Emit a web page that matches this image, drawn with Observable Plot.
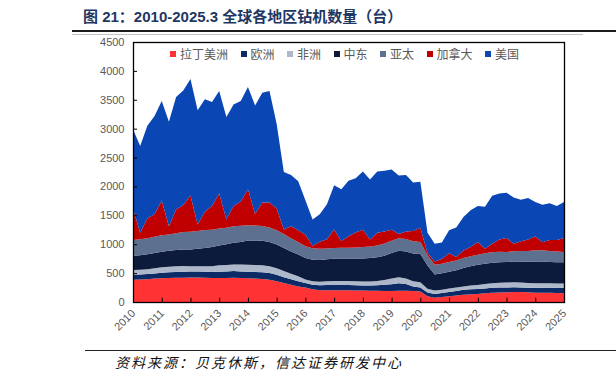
<!DOCTYPE html>
<html>
<head>
<meta charset="utf-8">
<script src="https://cdn.jsdelivr.net/npm/d3@7"></script>
<script src="https://cdn.jsdelivr.net/npm/@observablehq/plot@0.6"></script>
<style>
  html, body { margin: 0; padding: 0; background: #fff; }
  #wrap { position: relative; width: 616px; height: 381px; overflow: hidden; font-family: "Liberation Sans", "Noto Sans CJK SC", sans-serif; }
  #chart { position: absolute; left: 0; top: 0; }
  .title { position: absolute; left: 83px; top: 5px; font-size: 15px; font-weight: bold; color: #1F3763; white-space: nowrap; font-family: "Liberation Sans", "Noto Sans CJK SC", sans-serif; }
  .rule-thick { position: absolute; left: 72px; top: 30px; width: 544px; height: 2px; background: #1c1c1c; }
  .rule-thin { position: absolute; left: 72px; top: 34px; width: 511px; height: 1px; background: #c4c4c4; }
  .legend { position: absolute; left: 170px; top: 46px; display: flex; gap: 12.5px; font-size: 12px; color: #595959; font-family: "Noto Sans CJK SC", sans-serif; line-height: 16px; }
  .legend .item { display: flex; align-items: center; }
  .legend .sw { width: 6px; height: 6px; margin-right: 4px; }
  .src-rule { position: absolute; left: 85px; top: 350px; width: 531px; height: 1px; background: #222; }
  .source { position: absolute; left: 115px; top: 352px; font-size: 14px; font-style: italic; letter-spacing: 2px; color: #111; white-space: nowrap; font-family: "Noto Sans CJK SC", sans-serif; }
</style>
</head>
<body>
<div id="wrap">
  <div id="chart"></div>
  <div class="title">图 21：2010-2025.3 全球各地区钻机数量（台）</div>
  <div class="rule-thick"></div>
  <div class="rule-thin"></div>
  <div class="legend" id="legend"></div>
  <div class="src-rule"></div>
  <div class="source">资料来源：贝克休斯，信达证券研发中心</div>
</div>
<script>
// Quarterly samples, 2010Q1 .. 2025Q1
const startYear = 2010;
const periods = d3.range(61).map(i => startYear + i / 4);

const seriesNames = ["拉丁美洲", "欧洲", "非洲", "中东", "亚太", "加拿大", "美国"];
const seriesColors = ["#FF3334", "#0B2A66", "#ADB9CA", "#0C1A3C", "#5E7090", "#C00000", "#0A46B4"];

const latam = [385,390,395,405, 410,415,420,420, 425,425,420,415, 415,415,420,415, 410,405,400,385, 360,330,300,270, 250,220,205,205, 205,205,205,200, 197,195,195,192, 192,195,195,190, 182,100,75,85, 100,112,125,135, 140,150,160,165, 168,172,172,168, 162,160,158,155, 152];
const europe = [85,85,88,90, 95,100,100,105, 105,105,105,105, 110,115,115,115, 115,115,115,115, 110,100,95,90, 80,80,85,88, 90,90,90,90, 88,90,95,105, 115,130,115,80, 70,65,65,70, 75,80,85,85, 85,85,85,85, 82,82,80,80, 85,88,90,92, 95];
const africa = [85,85,85,90, 95,95,100,100, 90,90,95,100, 110,110,115,120, 120,120,120,120, 115,105,95,85, 60,60,62,65, 70,70,70,70, 70,70,75,85, 100,105,95,90, 90,65,58,58, 58,58,60,65, 70,75,80,85, 87,88,85,80, 78,76,75,75, 75];
const mideast = [245,250,260,265, 270,275,280,285, 290,300,315,330, 345,360,375,390, 420,425,425,420, 410,400,385,375, 370,370,375,380, 385,390,390,395, 400,405,410,420, 440,455,470,480, 490,400,280,285, 290,300,320,335, 348,352,355,355, 354,360,365,370, 377,375,370,368, 365];
const asiapac = [275,275,275,280, 285,285,290,300, 305,310,310,300, 290,285,285,280, 265,260,255,250, 245,240,230,220, 205,200,195,190, 185,185,185,190, 195,200,205,210, 215,220,215,210, 205,180,165,165, 170,170,170,170, 175,180,180,180, 175,175,180,185, 195,195,190,185, 180];
const canada = [545,115,347,390, 600,140,410,470, 630,110,315,410, 610,145,350,420, 620,200,405,430, 380,80,205,200, 200,45,120,160, 320,110,200,260, 300,120,220,208, 190,70,130,180, 250,40,60,80, 150,60,130,160, 220,80,150,210, 240,130,170,200, 240,140,190,200, 240];
const usa = [1370,1500,1600,1700, 1725,1810,1950,1980, 2015,1980,1950,1800, 1770,1770,1760,1740, 1770,1875,1900,1930, 1460,995,890,850, 595,455,478,602, 765,900,960,935, 1010,1040,1060,1050, 1040,1015,980,840, 793,350,307,287, 397,510,580,640, 622,728,830,800, 784,803,718,717, 593,650,637,585, 623];

const yearTicks = d3.range(2010, 2026);
const yTicks = [0, 500, 1000, 1500, 2000, 2500, 3000, 3500, 4000, 4500];

const seriesValues = [latam, europe, africa, mideast, asiapac, canada, usa];
const rows = [];
seriesNames.forEach((name, s) => {
  periods.forEach((t, i) => rows.push({t, region: name, value: seriesValues[s][i]}));
});

const chart = Plot.plot({
  width: 616,
  height: 381,
  marginLeft: 133,
  marginRight: 52,
  marginTop: 42,
  marginBottom: 79,
  style: {background: "transparent", fontFamily: "Liberation Sans, sans-serif"},
  x: {domain: [2010, 2025]},
  y: {domain: [0, 4500]},
  color: {domain: seriesNames, range: seriesColors},
  marks: [
    Plot.areaY(rows, {x: "t", y: "value", fill: "region", z: "region", order: null, curve: "linear"}),
    Plot.frame({stroke: "#000", strokeWidth: 1.3}),
    Plot.ruleY(yTicks.slice(1), {y: d => d, x1: 2010, x2: 2010.14, stroke: "#000"}),
    Plot.ruleX(yearTicks.slice(1), {x: d => d, y1: 0, y2: 75, stroke: "#000"}),
    Plot.axisY({ticks: yTicks, tickSize: 0, tickPadding: 9, fontSize: 11, color: "#595959", label: null, tickFormat: d3.format("d")}),
    Plot.axisX({ticks: yearTicks, tickSize: 0, tickPadding: 9, tickRotate: -45, fontSize: 11, color: "#595959", label: null, tickFormat: d3.format("d")})
  ]
});
document.getElementById("chart").appendChild(chart);

const legend = document.getElementById("legend");
seriesNames.forEach((name, i) => {
  const item = document.createElement("div");
  item.className = "item";
  const sw = document.createElement("span");
  sw.className = "sw";
  sw.style.background = seriesColors[i];
  const label = document.createElement("span");
  label.textContent = name;
  item.appendChild(sw);
  item.appendChild(label);
  legend.appendChild(item);
});
</script>
</body>
</html>
